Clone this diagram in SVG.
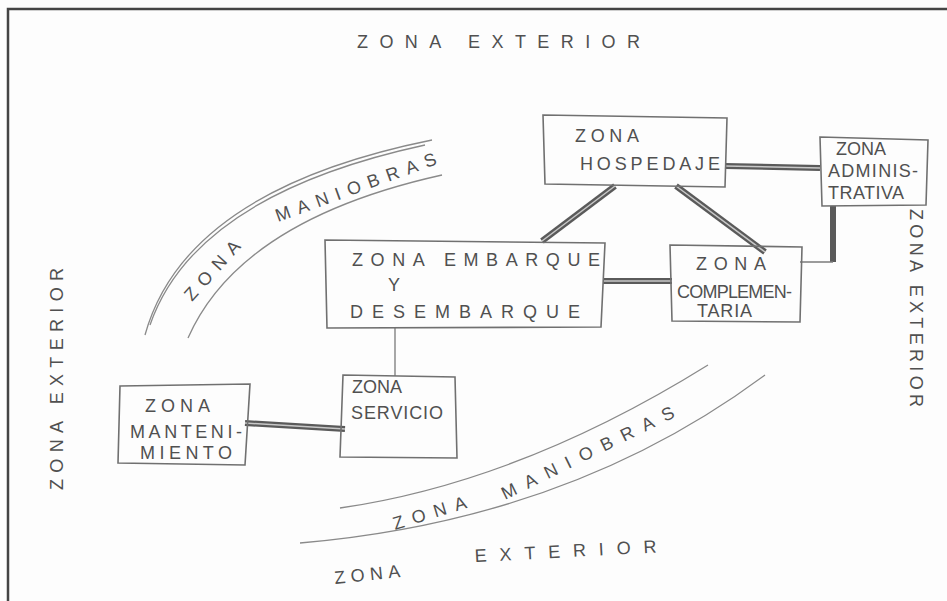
<svg xmlns="http://www.w3.org/2000/svg" width="947" height="601" viewBox="0 0 947 601">
<defs>
<style>
.t{font-family:"Liberation Sans",Arial,sans-serif;fill:#505050;font-size:18px}
.box{fill:none;stroke:#707070;stroke-width:1.6}
.thin{fill:none;stroke:#7a7a7a;stroke-width:1.3}
.thick{fill:none;stroke:#5a5a5a;stroke-width:6}
.core{fill:none;stroke:#c8c8c8;stroke-width:1.5}
.arc{fill:none;stroke:#8a8a8a;stroke-width:1.3}
</style>
</defs>
<rect x="0" y="0" width="947" height="601" fill="#fdfdfd"/>
<path d="M8,601 L8,9 L947,9" fill="none" stroke="#444" stroke-width="2.5"/>

<g id="zones">
<text class="t" x="357" y="48" textLength="283" font-size="21">ZONA EXTERIOR</text>
<path class="arc" d="M145,335 Q185,190 432,140"/>
<path class="arc" d="M150,325 Q195,195 425,145"/>
<path class="arc" d="M188,338 Q240,220 442,175"/>
<text class="t" font-size="20" transform="translate(192,302) rotate(-48)" textLength="74">ZONA</text>
<text class="t" font-size="20" transform="translate(278,222) rotate(-20)" textLength="170">MANIOBRAS</text>
<path class="arc" d="M340,508 Q520,482 708,365"/>
<path class="arc" d="M300,543 Q570,520 765,375"/>
<text class="t" font-size="20" transform="translate(395,530) rotate(-17)" textLength="76">ZONA</text>
<text class="t" font-size="20" transform="translate(505,500) rotate(-26)" textLength="190">MANIOBRAS</text>
<text class="t" font-size="21" transform="translate(335,584) rotate(-6)" textLength="66">ZONA</text>
<text class="t" font-size="21" transform="translate(475,562) rotate(-3)" textLength="182">EXTERIOR</text>
<text class="t" font-size="20" transform="translate(63,490) rotate(-90)" textLength="222">ZONA EXTERIOR</text>
<text class="t" font-size="20" transform="translate(910,209) rotate(90)" textLength="198">ZONA EXTERIOR</text>
</g>

<g id="connectors">
<path class="thick" d="M615,186 L542,241"/>
<path class="core" d="M615,186 L542,241"/>
<path class="thick" d="M676,186 L765,252"/>
<path class="core" d="M676,186 L765,252"/>
<path class="thick" d="M725,166 L820,168" stroke-width="5"/>
<path class="core" d="M725,166 L820,168"/>
<path class="thick" d="M603,281 L672,281" stroke-width="5"/>
<path class="core" d="M603,281 L672,281"/>
<path class="thick" d="M833,206 L833,262" stroke-width="4"/>
<path class="thin" d="M833,262 L800,262" stroke-width="2.5"/>
<path class="thin" d="M395,328 L395,376"/>
<path class="thick" d="M245,423 L345,429" stroke-width="5"/>
<path class="core" d="M245,423 L345,429"/>
</g>

<g id="hospedaje">
<path class="box" d="M543,115 L727,118 L725,187 L545,184 Z"/>
<text class="t" x="575" y="142" font-size="19" textLength="64">ZONA</text>
<text class="t" x="580" y="170" font-size="19" textLength="140">HOSPEDAJE</text>
</g>

<g id="administrativa">
<path class="box" d="M820,137 L928,140 L926,205 L822,206 Z"/>
<text class="t" x="836" y="155" font-size="12" textLength="50">ZONA</text>
<text class="t" x="828" y="177" font-size="11.5" textLength="90">ADMINIS-</text>
<text class="t" x="828" y="199" font-size="11.5" textLength="76">TRATIVA</text>
</g>

<g id="embarque">
<path class="box" d="M325,240 L605,243 L601,327 L327,328 Z"/>
<text class="t" x="352" y="266" font-size="17" textLength="248">ZONA     EMBARQUE</text>
<text class="t" x="388" y="291" font-size="17" textLength="14">Y</text>
<text class="t" x="350" y="318" font-size="17" textLength="230">DESEMBARQUE</text>
</g>

<g id="complementaria">
<path class="box" d="M670,245 L802,247 L800,322 L672,321 Z"/>
<text class="t" x="696" y="270" font-size="18" textLength="70">ZONA</text>
<text class="t" x="677" y="298" font-size="14" textLength="115">COMPLEMEN-</text>
<text class="t" x="697" y="317" font-size="14" textLength="55">TARIA</text>
</g>

<g id="servicio">
<path class="box" d="M343,375 L455,377 L457,458 L340,457 Z"/>
<text class="t" x="352" y="393" font-size="15" textLength="50">ZONA</text>
<text class="t" x="351" y="419" font-size="16" textLength="92">SERVICIO</text>
</g>

<g id="mantenimiento">
<path class="box" d="M120,386 L250,384 L245,465 L118,463 Z"/>
<text class="t" x="145" y="412" font-size="18" textLength="65">ZONA</text>
<text class="t" x="130" y="438" font-size="16" textLength="112">MANTENI-</text>
<text class="t" x="140" y="459" font-size="16" textLength="92">MIENTO</text>
</g>
</svg>
